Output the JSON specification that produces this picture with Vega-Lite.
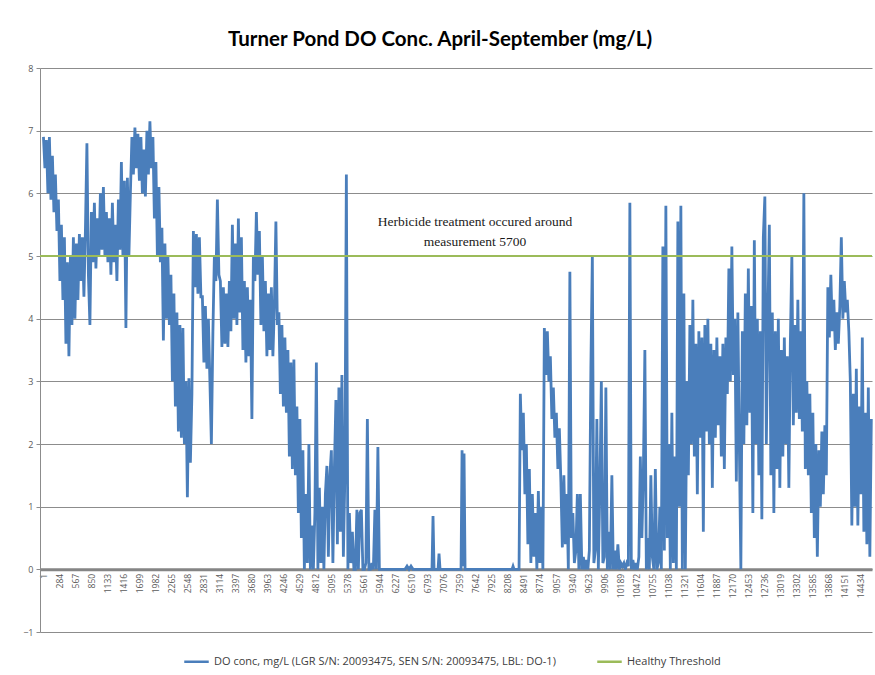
{
  "$schema": "https://vega.github.io/schema/vega-lite/v6.json",
  "autosize": {"type": "none"},
  "width": 832,
  "height": 564,
  "padding": {"left": 40, "top": 68, "right": 3, "bottom": 43},
  "background": "white",
  "title": {"text": "Turner Pond DO Conc. April-September (mg/L)", "font": "Lato", "fontSize": 20.5, "fontWeight": "bold", "color": "#000000", "anchor": "middle", "offset": 14, "dx": -16},
  "config": {"view": {"stroke": null}},
  "datasets": {
    "annotation": [{"label": ["Herbicide treatment occured around", "measurement 5700"], "measurement": 7626, "level": 5.54}],
    "threshold": [{"series": "Healthy Threshold", "value": 5}]
  },
  "data": {"values": [
    {"i":1,"v":6.9},{"i":27,"v":6.4},{"i":53,"v":6.85},{"i":80,"v":6.0},{"i":106,"v":6.9},{"i":133,"v":5.9},{"i":159,"v":6.6},{"i":186,"v":5.7},{"i":212,"v":6.3},{"i":239,"v":5.4},
    {"i":265,"v":5.9},{"i":292,"v":4.6},{"i":318,"v":5.5},{"i":345,"v":4.3},{"i":371,"v":5.3},{"i":398,"v":3.6},{"i":424,"v":4.9},{"i":451,"v":3.4},{"i":477,"v":5.0},{"i":504,"v":3.9},
    {"i":530,"v":5.3},{"i":557,"v":4.0},{"i":583,"v":5.2},{"i":610,"v":4.3},{"i":636,"v":5.35},{"i":663,"v":4.6},{"i":689,"v":5.3},{"i":716,"v":4.35},{"i":742,"v":5.4},{"i":769,"v":6.8},
    {"i":795,"v":4.7},{"i":822,"v":3.9},{"i":848,"v":5.7},{"i":875,"v":4.9},{"i":901,"v":5.85},{"i":928,"v":4.8},{"i":954,"v":5.6},{"i":981,"v":5.0},{"i":1007,"v":6.0},{"i":1034,"v":5.1},
    {"i":1060,"v":6.1},{"i":1087,"v":5.0},{"i":1113,"v":5.7},{"i":1140,"v":4.9},{"i":1166,"v":5.6},{"i":1193,"v":4.7},{"i":1219,"v":5.85},{"i":1246,"v":4.9},{"i":1272,"v":5.5},{"i":1299,"v":4.6},
    {"i":1325,"v":5.9},{"i":1352,"v":5.1},{"i":1378,"v":6.5},{"i":1405,"v":5.0},{"i":1431,"v":6.2},{"i":1458,"v":3.85},{"i":1484,"v":6.25},{"i":1511,"v":5.0},{"i":1537,"v":6.0},{"i":1564,"v":6.9},
    {"i":1590,"v":6.3},{"i":1617,"v":7.05},{"i":1643,"v":6.4},{"i":1670,"v":6.95},{"i":1696,"v":6.2},{"i":1723,"v":6.9},{"i":1749,"v":6.0},{"i":1776,"v":6.7},{"i":1802,"v":5.95},{"i":1829,"v":7.0},
    {"i":1855,"v":6.3},{"i":1882,"v":7.15},{"i":1908,"v":6.4},{"i":1935,"v":6.9},{"i":1961,"v":5.6},{"i":1988,"v":6.5},{"i":2014,"v":5.0},{"i":2041,"v":6.1},{"i":2067,"v":4.9},{"i":2094,"v":5.45},
    {"i":2120,"v":3.65},{"i":2147,"v":5.2},{"i":2173,"v":4.0},{"i":2200,"v":5.0},{"i":2226,"v":3.9},{"i":2253,"v":4.7},{"i":2279,"v":3.0},{"i":2306,"v":4.4},{"i":2332,"v":2.6},{"i":2359,"v":4.1},
    {"i":2385,"v":2.2},{"i":2412,"v":3.9},{"i":2438,"v":2.1},{"i":2465,"v":3.85},{"i":2491,"v":2.0},{"i":2518,"v":3.0},{"i":2544,"v":1.15},{"i":2571,"v":3.05},{"i":2597,"v":1.7},{"i":2624,"v":2.8},
    {"i":2650,"v":5.4},{"i":2677,"v":4.5},{"i":2703,"v":5.35},{"i":2730,"v":4.4},{"i":2756,"v":5.3},{"i":2783,"v":4.35},{"i":2809,"v":4.35},{"i":2836,"v":3.3},{"i":2862,"v":4.2},{"i":2889,"v":3.2},
    {"i":2915,"v":4.0},{"i":2942,"v":3.0},{"i":2968,"v":2.0},{"i":2995,"v":3.8},{"i":3021,"v":5.0},{"i":3048,"v":4.6},{"i":3074,"v":5.9},{"i":3101,"v":4.7},{"i":3127,"v":4.6},{"i":3154,"v":3.55},
    {"i":3180,"v":4.5},{"i":3207,"v":3.6},{"i":3233,"v":4.4},{"i":3260,"v":3.55},{"i":3286,"v":4.6},{"i":3313,"v":3.8},{"i":3339,"v":5.5},{"i":3366,"v":4.0},{"i":3392,"v":5.2},{"i":3419,"v":3.9},
    {"i":3445,"v":5.6},{"i":3472,"v":4.1},{"i":3498,"v":5.3},{"i":3525,"v":3.5},{"i":3551,"v":4.6},{"i":3578,"v":3.3},{"i":3604,"v":4.5},{"i":3631,"v":3.4},{"i":3657,"v":4.3},{"i":3684,"v":2.4},
    {"i":3710,"v":5.0},{"i":3737,"v":4.6},{"i":3763,"v":5.7},{"i":3790,"v":4.7},{"i":3816,"v":5.4},{"i":3843,"v":3.9},{"i":3869,"v":5.0},{"i":3896,"v":3.8},{"i":3922,"v":4.6},{"i":3949,"v":3.4},
    {"i":3975,"v":4.4},{"i":4002,"v":3.5},{"i":4028,"v":4.5},{"i":4055,"v":3.4},{"i":4081,"v":4.2},{"i":4108,"v":5.55},{"i":4134,"v":3.9},{"i":4161,"v":4.1},{"i":4187,"v":2.8},{"i":4214,"v":3.9},
    {"i":4240,"v":2.6},{"i":4267,"v":3.7},{"i":4293,"v":2.5},{"i":4320,"v":3.5},{"i":4346,"v":1.8},{"i":4373,"v":3.3},{"i":4399,"v":1.6},{"i":4426,"v":3.35},{"i":4452,"v":1.5},{"i":4479,"v":2.6},
    {"i":4505,"v":0.9},{"i":4532,"v":2.4},{"i":4558,"v":0.5},{"i":4585,"v":1.9},{"i":4611,"v":0.0},{"i":4638,"v":1.2},{"i":4664,"v":0.1},{"i":4691,"v":2.0},{"i":4717,"v":0.0},{"i":4744,"v":0.7},
    {"i":4770,"v":0.0},{"i":4797,"v":0.9},{"i":4823,"v":3.3},{"i":4850,"v":0.0},{"i":4876,"v":1.3},{"i":4903,"v":0.1},{"i":4929,"v":1.0},{"i":4956,"v":0.0},{"i":4982,"v":1.2},{"i":5009,"v":1.65},
    {"i":5035,"v":0.2},{"i":5062,"v":1.5},{"i":5088,"v":1.9},{"i":5115,"v":0.1},{"i":5141,"v":1.6},{"i":5168,"v":2.7},{"i":5194,"v":0.4},{"i":5221,"v":2.9},{"i":5247,"v":0.6},{"i":5274,"v":3.1},
    {"i":5300,"v":0.2},{"i":5327,"v":1.5},{"i":5353,"v":6.3},{"i":5380,"v":0.0},{"i":5406,"v":0.9},{"i":5433,"v":0.1},{"i":5459,"v":0.6},{"i":5486,"v":0.0},{"i":5512,"v":0.0},{"i":5539,"v":0.95},
    {"i":5565,"v":0.0},{"i":5592,"v":0.9},{"i":5618,"v":0.95},{"i":5645,"v":0.0},{"i":5671,"v":0.0},{"i":5698,"v":0.1},{"i":5724,"v":2.4},{"i":5751,"v":0.0},{"i":5777,"v":0.0},{"i":5804,"v":0.1},
    {"i":5830,"v":0.0},{"i":5857,"v":0.95},{"i":5883,"v":0.0},{"i":5910,"v":1.95},{"i":5936,"v":0.0},{"i":5983,"v":0.0},{"i":6389,"v":0.0},{"i":6425,"v":0.05},{"i":6460,"v":0.0},{"i":6495,"v":0.05},
    {"i":6531,"v":0.0},{"i":6866,"v":0.0},{"i":6884,"v":0.85},{"i":6902,"v":0.0},{"i":6973,"v":0.0},{"i":6990,"v":0.25},{"i":7008,"v":0.0},{"i":7379,"v":0.0},{"i":7397,"v":1.9},{"i":7414,"v":0.05},
    {"i":7432,"v":1.85},{"i":7450,"v":0.0},{"i":8280,"v":0.0},{"i":8298,"v":0.05},{"i":8316,"v":0.0},{"i":8404,"v":0.0},
    {"i":8427,"v":2.8},{"i":8454,"v":1.9},{"i":8480,"v":2.5},{"i":8507,"v":1.2},{"i":8533,"v":2.0},{"i":8560,"v":0.4},{"i":8586,"v":1.6},{"i":8613,"v":0.1},{"i":8639,"v":1.2},{"i":8666,"v":0.2},
    {"i":8692,"v":0.9},{"i":8719,"v":0.0},{"i":8745,"v":1.25},{"i":8772,"v":0.1},{"i":8798,"v":1.0},{"i":8825,"v":0.0},{"i":8851,"v":3.85},{"i":8878,"v":3.1},{"i":8904,"v":3.8},{"i":8931,"v":3.0},
    {"i":8957,"v":3.4},{"i":8984,"v":2.4},{"i":9010,"v":2.9},{"i":9037,"v":2.1},{"i":9063,"v":2.5},{"i":9090,"v":1.6},{"i":9116,"v":2.25},{"i":9143,"v":1.4},{"i":9169,"v":0.35},{"i":9196,"v":1.5},
    {"i":9222,"v":0.4},{"i":9249,"v":1.2},{"i":9275,"v":0.0},{"i":9302,"v":4.75},{"i":9328,"v":0.5},{"i":9355,"v":0.9},{"i":9381,"v":0.1},{"i":9408,"v":0.3},{"i":9434,"v":1.2},{"i":9461,"v":0.0},
    {"i":9487,"v":1.2},{"i":9514,"v":0.0},{"i":9540,"v":0.2},{"i":9567,"v":0.0},{"i":9593,"v":0.15},{"i":9620,"v":0.0},{"i":9646,"v":0.3},{"i":9673,"v":3.2},{"i":9699,"v":5.0},{"i":9726,"v":0.1},
    {"i":9752,"v":0.3},{"i":9779,"v":2.4},{"i":9805,"v":0.0},{"i":9832,"v":1.3},{"i":9858,"v":3.0},{"i":9885,"v":0.1},{"i":9911,"v":0.2},{"i":9938,"v":2.9},{"i":9964,"v":0.0},{"i":9991,"v":0.6},
    {"i":10017,"v":0.0},{"i":10044,"v":1.5},{"i":10070,"v":0.0},{"i":10097,"v":0.3},{"i":10123,"v":0.0},{"i":10150,"v":0.4},{"i":10176,"v":0.0},{"i":10203,"v":0.1},{"i":10229,"v":0.05},{"i":10256,"v":0.1},
    {"i":10282,"v":0.0},{"i":10309,"v":0.1},{"i":10335,"v":0.05},{"i":10362,"v":5.85},{"i":10388,"v":0.0},{"i":10415,"v":0.15},{"i":10441,"v":0.0},{"i":10468,"v":0.1},{"i":10494,"v":0.0},{"i":10521,"v":0.2},
    {"i":10547,"v":1.8},{"i":10574,"v":0.5},{"i":10600,"v":1.5},{"i":10627,"v":3.5},{"i":10653,"v":0.0},{"i":10680,"v":0.5},{"i":10706,"v":0.0},{"i":10733,"v":1.5},{"i":10759,"v":0.2},{"i":10786,"v":0.0},
    {"i":10812,"v":1.6},{"i":10839,"v":0.0},{"i":10865,"v":0.1},{"i":10892,"v":1.0},{"i":10918,"v":0.0},{"i":10945,"v":5.15},{"i":10971,"v":0.3},{"i":10998,"v":5.8},{"i":11024,"v":0.5},{"i":11051,"v":2.0},
    {"i":11077,"v":0.0},{"i":11104,"v":2.5},{"i":11130,"v":0.1},{"i":11157,"v":1.8},{"i":11183,"v":0.0},{"i":11210,"v":5.55},{"i":11236,"v":1.0},{"i":11263,"v":5.8},{"i":11289,"v":0.0},{"i":11316,"v":4.4},
    {"i":11342,"v":0.0},{"i":11369,"v":3.0},{"i":11395,"v":1.5},{"i":11422,"v":3.9},{"i":11448,"v":2.0},{"i":11475,"v":4.3},{"i":11501,"v":1.8},{"i":11528,"v":3.6},{"i":11554,"v":1.2},{"i":11581,"v":3.8},
    {"i":11607,"v":2.1},{"i":11634,"v":3.7},{"i":11660,"v":0.6},{"i":11687,"v":3.9},{"i":11713,"v":2.2},{"i":11740,"v":4.0},{"i":11766,"v":2.0},{"i":11793,"v":3.6},{"i":11819,"v":1.3},{"i":11846,"v":3.5},
    {"i":11872,"v":2.1},{"i":11899,"v":3.7},{"i":11925,"v":2.3},{"i":11952,"v":3.4},{"i":11978,"v":1.8},{"i":12005,"v":3.6},{"i":12031,"v":1.6},{"i":12058,"v":3.7},{"i":12084,"v":2.8},{"i":12111,"v":4.8},
    {"i":12137,"v":3.0},{"i":12164,"v":5.15},{"i":12190,"v":3.1},{"i":12217,"v":4.0},{"i":12243,"v":1.4},{"i":12270,"v":4.1},{"i":12296,"v":2.0},{"i":12323,"v":0.0},{"i":12349,"v":3.8},{"i":12376,"v":2.0},
    {"i":12402,"v":4.4},{"i":12429,"v":2.3},{"i":12455,"v":4.8},{"i":12482,"v":2.5},{"i":12508,"v":4.2},{"i":12535,"v":0.9},{"i":12561,"v":5.25},{"i":12588,"v":2.0},{"i":12614,"v":4.0},{"i":12641,"v":1.5},
    {"i":12667,"v":3.8},{"i":12694,"v":0.8},{"i":12720,"v":5.3},{"i":12747,"v":5.95},{"i":12773,"v":2.0},{"i":12800,"v":4.0},{"i":12826,"v":5.5},{"i":12853,"v":1.5},{"i":12879,"v":4.1},{"i":12906,"v":0.9},
    {"i":12932,"v":3.8},{"i":12959,"v":1.6},{"i":12985,"v":4.0},{"i":13012,"v":1.3},{"i":13038,"v":3.5},{"i":13065,"v":1.8},{"i":13091,"v":3.7},{"i":13118,"v":2.0},{"i":13144,"v":3.4},{"i":13171,"v":1.3},
    {"i":13197,"v":3.6},{"i":13224,"v":5.0},{"i":13250,"v":2.3},{"i":13277,"v":3.9},{"i":13303,"v":2.5},{"i":13330,"v":4.3},{"i":13356,"v":2.4},{"i":13383,"v":3.8},{"i":13409,"v":2.2},{"i":13436,"v":6.0},
    {"i":13462,"v":1.6},{"i":13489,"v":3.0},{"i":13515,"v":1.5},{"i":13542,"v":2.8},{"i":13568,"v":0.9},{"i":13595,"v":2.5},{"i":13621,"v":0.5},{"i":13648,"v":2.0},{"i":13674,"v":0.2},{"i":13701,"v":1.9},
    {"i":13727,"v":1.0},{"i":13754,"v":2.2},{"i":13780,"v":1.2},{"i":13807,"v":2.3},{"i":13833,"v":1.5},{"i":13860,"v":4.5},{"i":13886,"v":3.7},{"i":13913,"v":4.7},{"i":13939,"v":3.8},{"i":13966,"v":4.3},
    {"i":13992,"v":3.5},{"i":14019,"v":4.1},{"i":14045,"v":3.6},{"i":14072,"v":4.2},{"i":14098,"v":5.3},{"i":14125,"v":4.0},{"i":14151,"v":4.6},{"i":14178,"v":4.1},{"i":14204,"v":4.3},{"i":14231,"v":3.8},
    {"i":14257,"v":3.0},{"i":14284,"v":0.7},{"i":14310,"v":2.8},{"i":14337,"v":1.0},{"i":14363,"v":3.2},{"i":14390,"v":0.7},{"i":14416,"v":2.6},{"i":14443,"v":1.2},{"i":14469,"v":3.7},{"i":14496,"v":0.6},
    {"i":14522,"v":2.5},{"i":14549,"v":0.4},{"i":14575,"v":2.9},{"i":14602,"v":0.2},{"i":14628,"v":2.4}
  ]},
  "layer": [
    {
      "mark": {"type": "line", "strokeWidth": 2.8, "interpolate": "linear"},
      "encoding": {
        "x": {"field": "i", "type": "quantitative",
          "scale": {"domain": [-60, 14640], "nice": false, "zero": false},
          "axis": {"title": null, "grid": false, "offset": -62.67, "tickCount": 100,
            "values": [1,284,567,850,1133,1416,1699,1982,2265,2548,2831,3114,3397,3680,3963,4246,4529,4812,5095,5378,5661,5944,6227,6510,6793,7076,7359,7642,7925,8208,8491,8774,9057,9340,9623,9906,10189,10472,10755,11038,11321,11604,11887,12170,12453,12736,13019,13302,13585,13868,14151,14434],
            "format": "d", "labelAngle": -90, "labelFont": "Open Sans", "labelFontSize": 8.5, "labelColor": "#595959",
            "labelPadding": 4, "labelOverlap": false, "labelFlush": false, "labelBound": false,
            "ticks": false, "domainColor": "#858585", "domainWidth": 3}},
        "y": {"field": "v", "type": "quantitative",
          "scale": {"domain": [-1, 8], "nice": false, "zero": false},
          "axis": {"title": null, "values": [-1,0,1,2,3,4,5,6,7,8], "format": "d", "grid": true, "gridColor": "#8c8c8c", "gridWidth": 1,
            "domainColor": "#8c8c8c", "tickColor": "#8c8c8c", "tickSize": 4, "labelPadding": 3,
            "labelFont": "Open Sans", "labelFontSize": 9, "labelColor": "#595959"}},
        "color": {"datum": "DO conc, mg/L (LGR S/N: 20093475, SEN S/N: 20093475, LBL: DO-1)",
          "scale": {"domain": ["DO conc, mg/L (LGR S/N: 20093475, SEN S/N: 20093475, LBL: DO-1)", "Healthy Threshold"], "range": ["#4a7ebb", "#9bbb59"]},
          "legend": {"title": null, "orient": "none", "direction": "horizontal", "legendX": 143, "legendY": 580,
            "symbolType": "stroke", "symbolSize": 600, "symbolStrokeWidth": 2.5, "columnPadding": 36,
            "labelFont": "Open Sans", "labelFontSize": 11, "labelColor": "#404040", "labelLimit": 600}}
      }
    },
    {
      "data": {"name": "threshold"},
      "mark": {"type": "rule", "strokeWidth": 2.2},
      "encoding": {
        "y": {"field": "value", "type": "quantitative"},
        "color": {"field": "series", "type": "nominal",
          "legend": {"title": null, "orient": "none", "direction": "horizontal", "legendX": 143, "legendY": 580,
            "symbolType": "stroke", "symbolSize": 600, "symbolStrokeWidth": 2.5, "columnPadding": 36,
            "labelFont": "Open Sans", "labelFontSize": 11, "labelColor": "#404040", "labelLimit": 600}}
      }
    },
    {
      "data": {"name": "annotation"},
      "mark": {"type": "text", "font": "Liberation Serif", "fontSize": 13.5, "align": "center", "baseline": "middle", "lineHeight": 20, "color": "#1a1a1a"},
      "encoding": {
        "x": {"field": "measurement", "type": "quantitative"},
        "y": {"field": "level", "type": "quantitative"},
        "text": {"field": "label"}
      }
    }
  ]
}
